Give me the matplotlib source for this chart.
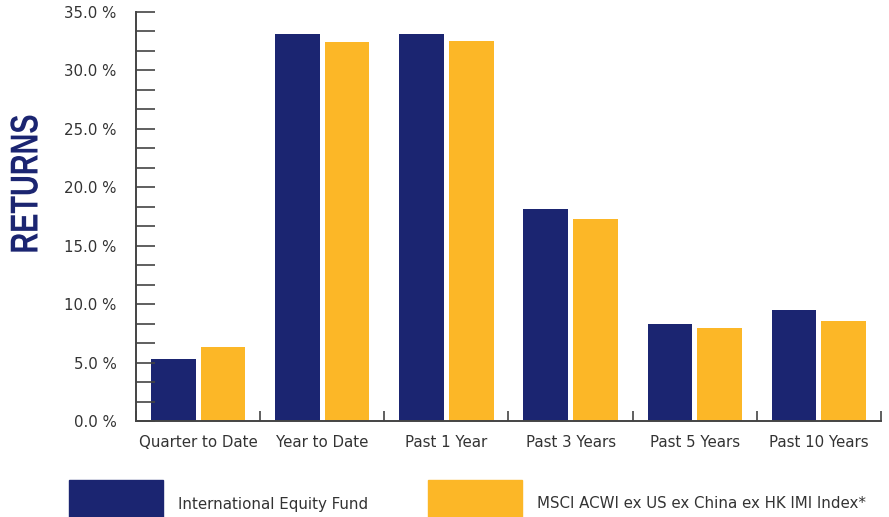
import numpy as np
import matplotlib
matplotlib.use("Agg")
import matplotlib.pyplot as plt
from matplotlib.patches import Rectangle
from matplotlib.patheffects import AbstractPathEffect
from matplotlib.transforms import Affine2D

# Data
categories = ["Quarter to Date", "Year to Date", "Past 1 Year",
              "Past 3 Years", "Past 5 Years", "Past 10 Years"]
fund = [5.3, 33.1, 33.1, 18.1, 8.3, 9.5]
index = [6.3, 32.4, 32.5, 17.3, 8.0, 8.6]
series_names = ["International Equity Fund",
                "MSCI ACWI ex US ex China ex HK IMI Index*"]
y_ticks = [0, 5, 10, 15, 20, 25, 30, 35]

navy = "#1b2571"
gold = "#fcb727"
text_col = "#333333"
axis_col = "#444444"

plt.rcParams["font.family"] = ["DejaVu Sans"]


class Condense(AbstractPathEffect):
    """Squeeze glyphs vertically on screen (used for the rotated title)."""
    def __init__(self, sy, cy):
        super().__init__()
        self.sy, self.cy = sy, cy

    def draw_path(self, renderer, gc, tpath, affine, rgbFace=None):
        t = affine + Affine2D().translate(0, -self.cy).scale(1, self.sy) \
            .translate(0, self.cy)
        renderer.draw_path(gc, tpath, t, rgbFace)


fig = plt.figure(figsize=(8.89, 5.17), dpi=100)
ax = fig.add_axes([136 / 889, 1 - 421 / 517, 745 / 889, 409 / 517])

x = np.arange(len(categories))
w = 0.36
ax.bar(x - 0.2, fund, width=w, color=navy, zorder=1)
ax.bar(x + 0.2, index, width=w, color=gold, zorder=1)

ax.set_xlim(-0.5, len(categories) - 0.5)
ax.set_ylim(0, 35)

for s in ["top", "right"]:
    ax.spines[s].set_visible(False)
for s in ["left", "bottom"]:
    ax.spines[s].set_color(axis_col)
    ax.spines[s].set_linewidth(1.4)
    ax.spines[s].set_zorder(3)

# y axis: labels every 5 %, ticks every 5/3 %
ax.set_yticks(y_ticks)
ax.set_yticklabels([f"{v:.1f} %" for v in y_ticks])
ax.set_yticks(np.linspace(0, 35, 22), minor=True)
ax.tick_params(axis="y", which="both", direction="in", length=13.7,
               width=1.2, color=axis_col, labelsize=10.8,
               labelcolor=text_col, pad=14)

# x axis: boundary ticks, labels at group centres
ax.set_xticks(np.arange(len(categories) + 1) - 0.5)
ax.set_xticklabels([])
ax.set_xticks(x, minor=True)
ax.set_xticklabels(categories, minor=True)
ax.tick_params(axis="x", which="major", direction="in", length=7,
               width=1.2, color=axis_col)
ax.tick_params(axis="x", which="minor", length=0, labelsize=10.8,
               labelcolor=text_col, pad=10)

ttl = fig.text(27.5 / 889, 1 - 184 / 517, "RETURNS", rotation=90,
               ha="center", va="center", color=navy, fontsize=28,
               fontweight="bold", family=["Liberation Sans", "DejaVu Sans"])
ttl.set_path_effects([Condense(0.74, 517 - 184)])

# legend
legend_items = [(69, navy, series_names[0]), (428, gold, series_names[1])]
for x0, col, label in legend_items:
    fig.add_artist(Rectangle((x0 / 889, 0), 94 / 889, 37 / 517,
                             transform=fig.transFigure, color=col))
    fig.text((x0 + 109) / 889, 1 - 504 / 517, label, ha="left",
             va="center", fontsize=10.8, color=text_col)

fig.savefig("out.png", dpi=100)
